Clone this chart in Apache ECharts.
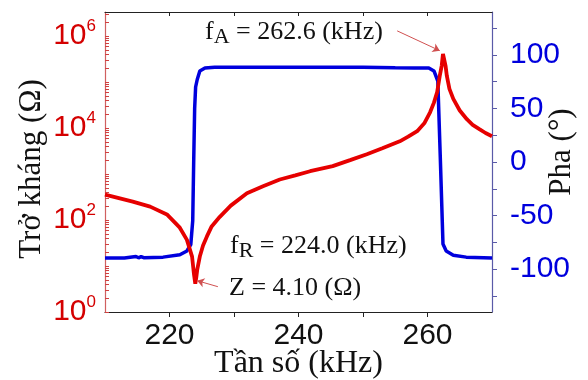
<!DOCTYPE html>
<html>
<head>
<meta charset="utf-8">
<script src="https://cdn.jsdelivr.net/npm/echarts@6/dist/echarts.min.js"></script>
<style>
  html, body { margin: 0; padding: 0; background: #fff; }
  #chart { width: 588px; height: 380px; }
</style>
</head>
<body>
<div id="chart"></div>
<script>
// tần số (kHz) và trở kháng (Ω)
const freqZ = [210.0, 214.3, 217.0, 219.6, 221.6, 222.7, 223.5, 223.8, 224.0, 224.15, 224.3, 224.7, 225.2, 225.8,
  226.5, 227.8, 229.5, 232.0, 234.5, 237.1, 239.5, 241.8, 245.3, 248.0, 250.6, 253.0, 255.7, 257.0, 258.4,
  259.5, 260.4, 261.0, 261.5, 261.9, 262.2, 262.4, 262.6, 262.8, 263.0, 263.4, 264.0, 265.0, 266.1, 267.0,
  268.1, 269.0, 270.0];
const impedance = [355, 251, 195, 132, 68, 37, 16, 6.5, 4.10, 5.6, 8.3, 16, 28, 44,
  71, 117, 205, 380, 540, 759, 933, 1148, 1480, 1995, 2692, 3630, 5129, 6460, 8511,
  12600, 21900, 35500, 60300, 135000, 224000, 407000, 417000, 224000, 135000, 70800, 42700, 24000, 15500, 11700,
  9330, 7760, 6610];

// tần số (kHz) và pha (°)
const freqP = [210.0, 213.0, 214.8, 215.2, 215.6, 216.0, 219.0, 221.6, 222.7, 223.3, 223.6, 223.75, 223.9, 224.05,
  224.3, 224.7, 225.5, 227.0, 240.0, 250.0, 255.0, 258.0, 260.2, 261.0, 261.6, 262.0, 262.4, 262.9, 264.0, 266.0, 270.0];
const phase = [-89.6, -89.5, -88.2, -89.4, -88.3, -89.3, -88.8, -86.5, -83, -77, -55, 0, 50, 70,
  77, 85, 87.8, 88.5, 88.5, 88.4, 88.0, 87.8, 87.8, 85, 75.6, 1, -76.6, -83, -87, -88.8, -89.6];

// nhãn trục
const xLabels = [220, 240, 260];
const xTicks = [220, 230, 240, 250, 260];
const zDecades = [0, 2, 4, 6];
const phaseLabels = [-100, -50, 0, 50, 100];
const phaseTicks = [-125, -100, -75, -50, -25, 0, 25, 50, 75, 100, 125];

// vạch chia nhỏ của thang log
let zTicks = [];
for (let d = 0; d <= 6; d++) {
  for (let k = 1; k <= 9; k++) {
    let v = d + Math.log10(k);
    if (v <= 6.52) zTicks.push(v);
  }
}

const red = '#e60000';
const blue = '#0000dd';
const serif = 'Liberation Serif';
const sans = 'Liberation Sans';

let zData = freqZ.map((f, i) => [f, Math.log10(impedance[i])]);
let pData = freqP.map((f, i) => [f, phase[i]]);

let myChart = echarts.init(document.getElementById('chart'));
myChart.setOption({
  animation: false,
  grid: { left: 105, right: 96, top: 12, bottom: 68, outerBoundsMode: 'none' },
  xAxis: [
    {
      type: 'value', min: 210, max: 270,
      name: 'Tần số (kHz)', nameLocation: 'middle', nameGap: 36, nameMoveOverlap: false,
      nameTextStyle: { fontFamily: serif, fontSize: 32, color: '#111' },
      axisLine: { onZero: false, lineStyle: { color: '#222', width: 1.2 } },
      axisTick: { customValues: xTicks, length: 5, lineStyle: { color: '#222' } },
      axisLabel: { customValues: xLabels, fontFamily: sans, fontSize: 30, color: '#111', margin: 9 },
      splitLine: { show: false }
    },
    {
      type: 'value', min: 210, max: 270, position: 'top',
      axisLine: { onZero: false, lineStyle: { color: '#222', width: 1.2 } },
      axisTick: { customValues: xTicks, inside: true, length: 4, lineStyle: { color: '#222' } },
      axisLabel: { show: false },
      splitLine: { show: false }
    }
  ],
  yAxis: [
    {
      type: 'value', min: 0, max: 6.52,
      name: 'Trở kháng (Ω)', nameLocation: 'middle', nameGap: 58, nameMoveOverlap: false,
      nameTextStyle: { fontFamily: serif, fontSize: 31, color: '#111', padding: [0, 14, 0, 0] },
      axisLine: { onZero: false, lineStyle: { color: '#d06060', width: 1.2 } },
      axisTick: { customValues: zTicks, inside: true, length: 4, lineStyle: { color: '#d04040' } },
      axisLabel: {
        customValues: zDecades, margin: 9,
        formatter: v => '{b|10}{s|' + v + '}',
        rich: {
          b: { fontFamily: sans, fontSize: 30, color: '#d40000' },
          s: { fontFamily: sans, fontSize: 17, color: '#d40000', padding: [0, 0, 20, 0] }
        }
      },
      splitLine: { show: false }
    },
    {
      type: 'value', min: -140, max: 140, position: 'right',
      name: 'Pha (°)', nameLocation: 'middle', nameGap: 54, nameMoveOverlap: false,
      nameTextStyle: { fontFamily: serif, fontSize: 31, color: '#111', padding: [0, 0, 0, 20] },
      axisLine: { onZero: false, lineStyle: { color: '#5a5aa8', width: 1.2 } },
      axisTick: { customValues: phaseTicks, length: 5, lineStyle: { color: '#5a5aa8' } },
      axisLabel: { customValues: phaseLabels, fontFamily: sans, fontSize: 30, color: blue, margin: 18 },
      splitLine: { show: false }
    }
  ],
  series: [
    {
      type: 'line', xAxisIndex: 0, yAxisIndex: 1, data: pData,
      showSymbol: false, lineStyle: { color: blue, width: 3.5 }, z: 2
    },
    {
      type: 'line', xAxisIndex: 0, yAxisIndex: 0, data: zData,
      showSymbol: false, lineStyle: { color: red, width: 3.8 }, z: 3,
      markLine: {
        silent: true, symbol: ['none', 'arrow'], symbolSize: 7,
        label: { show: false },
        lineStyle: { color: '#d05050', width: 1, type: 'solid' },
        data: [
          [{ coord: [255.3, 6.11] }, { coord: [261.9, 5.68] }],
          [{ coord: [227.5, 0.55] }, { coord: [224.3, 0.68] }]
        ]
      }
    }
  ],
  graphic: [
    {
      type: 'text', left: 205, top: 19,
      style: {
        text: '{m|f}{s|A}{m| = 262.6 (kHz)}',
        rich: {
          m: { fontFamily: serif, fontSize: 26, fill: '#111' },
          s: { fontFamily: serif, fontSize: 22, fill: '#111', padding: [10, 0, 0, 0] }
        }
      }
    },
    {
      type: 'text', left: 230, top: 233,
      style: {
        text: '{m|f}{s|R}{m| = 224.0 (kHz)}',
        rich: {
          m: { fontFamily: serif, fontSize: 26, fill: '#111' },
          s: { fontFamily: serif, fontSize: 22, fill: '#111', padding: [10, 0, 0, 0] }
        }
      }
    },
    {
      type: 'text', left: 229, top: 275,
      style: { text: 'Z = 4.10 (Ω)', fontFamily: serif, fontSize: 26, fill: '#111' }
    }
  ]
});
</script>
</body>
</html>
